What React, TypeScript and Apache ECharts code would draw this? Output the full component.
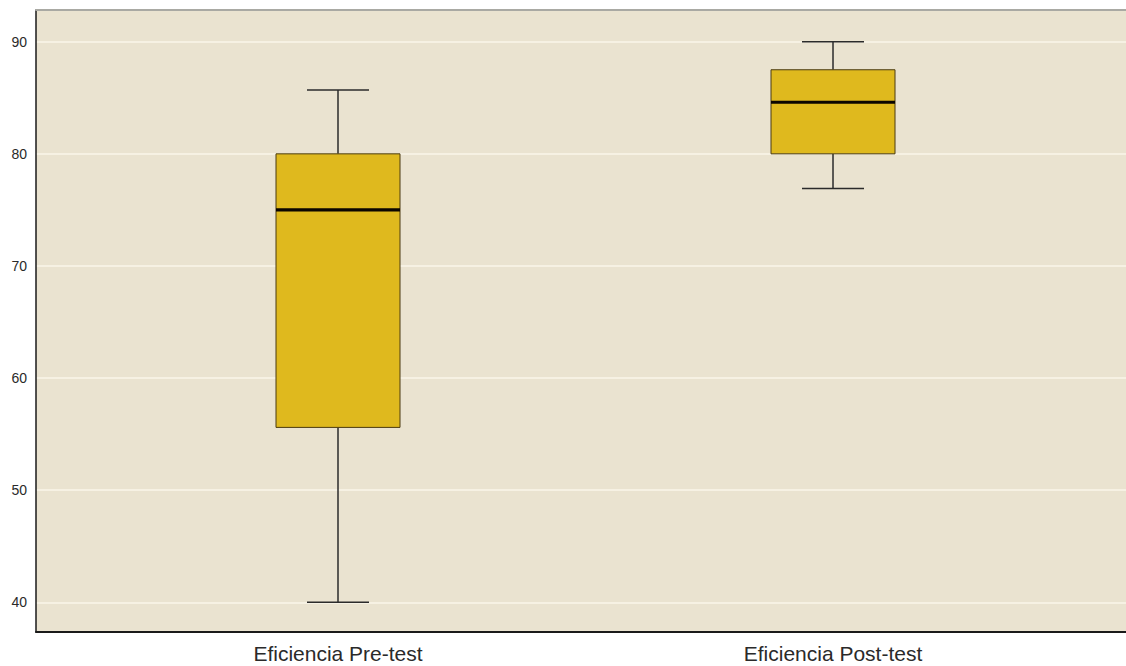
import React, { useEffect, useRef } from "react";
import * as echarts from "echarts";

// Category names and their x positions on the value axis
const categories = ["Eficiencia Pre-test", "Eficiencia Post-test"];
const positions = [0, 1];

// Five-number summaries: [min, Q1, median, Q3, max]
const preTest = [40, 55.6, 75, 80, 85.7];
const postTest = [76.9, 80, 84.6, 87.5, 90];

// Y axis tick labels
const yTicks = [40, 50, 60, 70, 80, 90];

const BOX_HALF = 62;
const CAP_HALF = 31;

export default function App() {
  const ref = useRef<HTMLDivElement>(null);

  useEffect(() => {
    if (!ref.current) return;
    const chart = echarts.init(ref.current, null, { renderer: "svg" });

    const data = [preTest, postTest].map((s, i) => [positions[i], ...s]);

    const renderItem = (params: any, api: any) => {
      const x = api.value(0);
      const vals = [1, 2, 3, 4, 5].map((d) => api.coord([x, api.value(d)]));
      const cx = vals[0][0];
      const [pMin, pQ1, pMed, pQ3, pMax] = vals.map((p: number[]) => p[1]);
      const lineStyle = { stroke: "#2b2b2b", lineWidth: 1.5 };
      return {
        type: "group",
        children: [
          { type: "line", shape: { x1: cx, y1: pMax, x2: cx, y2: pQ3 }, style: lineStyle },
          { type: "line", shape: { x1: cx, y1: pQ1, x2: cx, y2: pMin }, style: lineStyle },
          { type: "line", shape: { x1: cx - CAP_HALF, y1: pMax, x2: cx + CAP_HALF, y2: pMax }, style: lineStyle },
          { type: "line", shape: { x1: cx - CAP_HALF, y1: pMin, x2: cx + CAP_HALF, y2: pMin }, style: lineStyle },
          {
            type: "rect",
            shape: { x: cx - BOX_HALF, y: pQ3, width: BOX_HALF * 2, height: pQ1 - pQ3 },
            style: { fill: "#DFB91E", stroke: "#4a3b10", lineWidth: 1 },
          },
          {
            type: "line",
            shape: { x1: cx - BOX_HALF, y1: pMed, x2: cx + BOX_HALF, y2: pMed },
            style: { stroke: "#0a0500", lineWidth: 3.2 },
          },
        ],
      };
    };

    chart.setOption({
      animation: false,
      backgroundColor: "#ffffff",
      grid: {
        left: 36,
        right: 0,
        top: 10,
        bottom: 34,
        show: true,
        backgroundColor: "#EAE3D0",
        borderWidth: 0,
      },
      xAxis: [
        {
          type: "value",
          min: -0.6101,
          max: 1.5919,
          axisLine: { show: true, onZero: false, lineStyle: { color: "#1a1a1a", width: 2 } },
          axisTick: { show: false },
          splitLine: { show: false },
          axisLabel: {
            customValues: positions,
            formatter: (v: number) => categories[Math.round(v)] ?? "",
            color: "#2a2a2a",
            fontFamily: "Liberation Sans, Arial, sans-serif",
            fontSize: 21,
            margin: 11,
          },
        },
        {
          type: "value",
          position: "top",
          min: -0.6101,
          max: 1.5919,
          axisLine: { show: true, onZero: false, lineStyle: { color: "#a9a9a3", width: 2 } },
          axisTick: { show: false },
          axisLabel: { show: false },
          splitLine: { show: false },
        },
      ],
      yAxis: {
        type: "value",
        min: 37.35,
        max: 92.83,
        axisLine: { show: true, onZero: false, lineStyle: { color: "#1a1a1a", width: 1.5 } },
        axisTick: { show: false, customValues: yTicks },
        axisLabel: {
          customValues: yTicks,
          color: "#2a2a2a",
          fontFamily: "Liberation Sans, Arial, sans-serif",
          fontSize: 14,
          margin: 9,
        },
        splitLine: { show: true, lineStyle: { color: "#FAF6EA", width: 1.5 } },
      },
      series: [
        {
          type: "custom",
          renderItem,
          data,
          encode: { x: 0, y: [1, 2, 3, 4, 5] },
          clip: false,
        },
      ],
    });

    return () => chart.dispose();
  }, []);

  return (
    <div
      ref={ref}
      style={{ position: "fixed", left: 0, top: 0, width: 1126, height: 666 }}
    />
  );
}
